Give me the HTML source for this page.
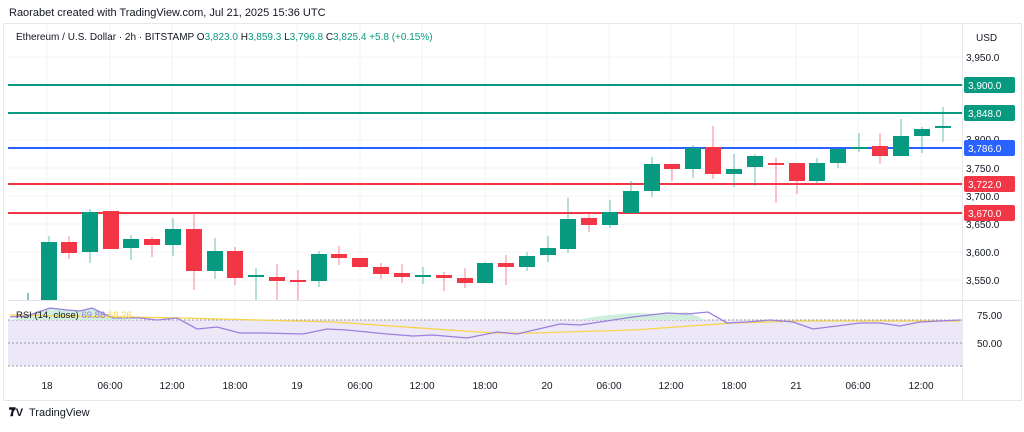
<!DOCTYPE html>
<html><head><meta charset="utf-8"><style>
body{margin:0;background:#fff;width:1024px;height:427px;overflow:hidden;font-family:"Liberation Sans",sans-serif}
</style></head><body>
<svg width="1024" height="427" xmlns="http://www.w3.org/2000/svg" font-family="Liberation Sans, sans-serif">
<rect width="1024" height="427" fill="#fff"/>
<text x="9" y="16" font-size="11" fill="#131722">Raorabet created with TradingView.com, Jul 21, 2025 15:36 UTC</text>
<rect x="3.5" y="23.5" width="1018" height="377" fill="none" stroke="#e6e8ec"/>
<g stroke="#f2f3f5" stroke-width="1">
<line x1="47" y1="24" x2="47" y2="367"/><line x1="110" y1="24" x2="110" y2="367"/><line x1="172" y1="24" x2="172" y2="367"/><line x1="235" y1="24" x2="235" y2="367"/><line x1="297" y1="24" x2="297" y2="367"/><line x1="360" y1="24" x2="360" y2="367"/><line x1="422" y1="24" x2="422" y2="367"/><line x1="485" y1="24" x2="485" y2="367"/><line x1="547" y1="24" x2="547" y2="367"/><line x1="609" y1="24" x2="609" y2="367"/><line x1="671" y1="24" x2="671" y2="367"/><line x1="734" y1="24" x2="734" y2="367"/><line x1="796" y1="24" x2="796" y2="367"/><line x1="858" y1="24" x2="858" y2="367"/><line x1="921" y1="24" x2="921" y2="367"/>
<line x1="8" y1="57" x2="962" y2="57"/><line x1="8" y1="85" x2="962" y2="85"/><line x1="8" y1="113" x2="962" y2="113"/><line x1="8" y1="140" x2="962" y2="140"/><line x1="8" y1="168" x2="962" y2="168"/><line x1="8" y1="196" x2="962" y2="196"/><line x1="8" y1="224" x2="962" y2="224"/><line x1="8" y1="252" x2="962" y2="252"/><line x1="8" y1="280" x2="962" y2="280"/>
</g>
<line x1="8" y1="300.5" x2="1021" y2="300.5" stroke="#e0e3eb"/>
<line x1="962.5" y1="24" x2="962.5" y2="400" stroke="#e6e8ec"/>
<text x="16" y="40" font-size="10" fill="#131722">Ethereum / U.S. Dollar · 2h · BITSTAMP  O<tspan fill="#089981">3,823.0</tspan>  H<tspan fill="#089981">3,859.3</tspan>  L<tspan fill="#089981">3,796.8</tspan>  C<tspan fill="#089981">3,825.4  +5.8 (+0.15%)</tspan></text>
<text x="976" y="41" font-size="10" fill="#131722">USD</text>
<g font-size="10" fill="#131722">
<text x="966" y="61">3,950.0</text><text x="966" y="143">3,800.0</text><text x="966" y="172">3,750.0</text><text x="966" y="200">3,700.0</text><text x="966" y="228">3,650.0</text><text x="966" y="256">3,600.0</text><text x="966" y="284">3,550.0</text>
</g>
<!-- horizontal levels -->
<line x1="8" y1="85" x2="962" y2="85" stroke="#089981" stroke-width="2"/>
<line x1="8" y1="113" x2="962" y2="113" stroke="#089981" stroke-width="2"/>
<line x1="8" y1="148" x2="962" y2="148" stroke="#2962ff" stroke-width="2"/>
<line x1="8" y1="184" x2="962" y2="184" stroke="#f23645" stroke-width="2"/>
<line x1="8" y1="213" x2="962" y2="213" stroke="#f23645" stroke-width="2"/>
<g font-size="10" fill="#fff">
<rect x="964" y="77" width="51" height="16" rx="2" fill="#089981"/><text x="968" y="89">3,900.0</text>
<rect x="964" y="105" width="51" height="16" rx="2" fill="#089981"/><text x="968" y="117">3,848.0</text>
<rect x="964" y="140" width="51" height="16" rx="2" fill="#2962ff"/><text x="968" y="152">3,786.0</text>
<rect x="964" y="176" width="51" height="16" rx="2" fill="#f23645"/><text x="968" y="188">3,722.0</text>
<rect x="964" y="205" width="51" height="16" rx="2" fill="#f23645"/><text x="968" y="217">3,670.0</text>
</g>
<!-- candles -->
<g id="c"></g>
<g>
<line x1="28" y1="293" x2="28" y2="300" stroke="#089981"/>
</g>
<g id="candles"></g>
<!-- RSI -->
<rect x="8" y="320" width="954" height="46" fill="#ede8f7"/>
<g stroke="#9598a1" stroke-dasharray="2,2"><line x1="8" y1="320" x2="962" y2="320"/><line x1="8" y1="343" x2="962" y2="343"/><line x1="8" y1="366" x2="962" y2="366"/></g>
<polygon points="10,320 27,316 50,308 67,310 80,311 92,308 113,318 140,320" fill="#cfeede"/>
<polygon points="575,320 600,316 633,313 667,314 687,312 706,320" fill="#cfeede"/>
<polyline fill="none" stroke="#f7d44c" stroke-width="1.3" points="10,315 180,318 333,322 493,333 533,333 633,330 733,323 800,321 960,321"/>
<polyline fill="none" stroke="#9c7fdc" stroke-width="1.3" points="10,317 27,316 50,308 67,310 80,311 92,308 113,318 140,318 157,320 177,318 197,329 217,327 240,333 263,333 303,334 327,329 347,330 387,334 413,336 433,335 467,338 497,332 517,334 560,324 580,325 600,322 633,317 667,313 687,314 708,312 727,323 747,322 770,320 793,322 813,329 837,326 860,323 880,323 900,326 920,322 960,320"/>
<text x="16" y="318" font-size="9.5" fill="#131722">RSI (14, close) <tspan fill="#9c7fdc">69.86</tspan> <tspan fill="#f7d44c">68.26</tspan></text>
<g font-size="10" fill="#131722"><text x="977" y="319">75.00</text><text x="977" y="347">50.00</text></g>
<g font-size="10" fill="#131722" text-anchor="middle">
<text x="47" y="389">18</text><text x="110" y="389">06:00</text><text x="172" y="389">12:00</text><text x="235" y="389">18:00</text><text x="297" y="389">19</text><text x="360" y="389">06:00</text><text x="422" y="389">12:00</text><text x="485" y="389">18:00</text><text x="547" y="389">20</text><text x="609" y="389">06:00</text><text x="671" y="389">12:00</text><text x="734" y="389">18:00</text><text x="796" y="389">21</text><text x="858" y="389">06:00</text><text x="921" y="389">12:00</text>
</g>
<text x="9" y="416" font-size="12" font-weight="bold" fill="#131722">𝟕</text>
<text x="9" y="416" font-size="11" font-weight="bold" fill="#131722">TV</text>
<text x="29" y="416" font-size="11" fill="#131722">TradingView</text>
<g id="cc">
</g>
</svg>
<script>
var d=[
[49,'g',242,300,236,300],[69,'r',242,253,236,259],[90,'g',212,252,209,263],[111,'r',211,249,211,249],[131,'g',239,248,235,260],[152,'r',239,245,237,257],[173,'g',229,245,218,256],[194,'r',229,271,212,290],[215,'g',251,271,238,279],[235,'r',251,278,247,285],[256,'g',275,277,268,300],[277,'r',277,281,264,300],[298,'r',280,282,270,300],[319,'g',254,281,251,287],[339,'r',254,258,246,265],[360,'r',258,267,258,268],[381,'r',267,274,263,279],[402,'r',273,277,264,283],[423,'g',275,277,267,284],[444,'r',275,278,272,291],[465,'r',278,283,268,288],[485,'g',263,283,262,283],[506,'r',263,267,255,285],[527,'g',256,267,252,271],[548,'g',248,255,236,262],[568,'g',219,249,198,253],[589,'r',218,225,213,232],[610,'g',212,225,200,228],[631,'g',191,213,181,213],[652,'g',164,191,157,197],[672,'r',164,169,164,181],[693,'g',148,169,145,178],[713,'r',147,174,126,179],[734,'g',169,174,154,187],[755,'g',156,167,154,186],[776,'r',163,164,158,203],[797,'r',163,181,163,194],[817,'g',163,181,158,183],[838,'g',149,163,149,168],[859,'g',147,149,133,152],[880,'r',146,156,133,164],[901,'g',136,156,119,156],[922,'g',129,136,127,153],[943,'g',126,128,107,142]];
var s='',ns='http://www.w3.org/2000/svg';
d.forEach(function(c){var col=c[1]=='g'?'#089981':'#f23645';
s+='<line x1="'+c[0]+'" y1="'+c[4]+'" x2="'+c[0]+'" y2="'+c[5]+'" stroke="'+col+'" stroke-opacity="0.6"/>';
s+='<rect x="'+(c[0]-8)+'" y="'+c[2]+'" width="16" height="'+Math.max(2,c[3]-c[2])+'" fill="'+col+'"/>';});
document.getElementById('candles').innerHTML=s;
</script>
</body></html>
